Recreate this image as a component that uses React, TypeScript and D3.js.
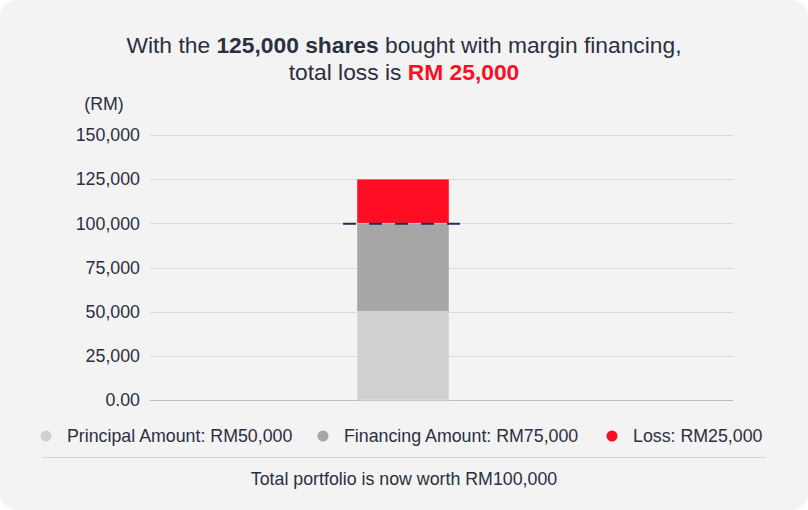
import { useEffect, useRef } from "react";
import * as d3 from "d3";

const categories = ["Portfolio"];
const seriesNames = ["Principal Amount", "Financing Amount", "Loss"];
const seriesValues = [50000, 50000, 25000];
const legendLabels = [
  "Principal Amount: RM50,000",
  "Financing Amount: RM75,000",
  "Loss: RM25,000",
];
const seriesColors = ["#d0d0d0", "#a6a6a6", "#ff0d23"];
const yTicks = [0, 25000, 50000, 75000, 100000, 125000, 150000];
const markerValue = 100000;

const W = 808;
const H = 510;

export default function App() {
  const svgRef = useRef<SVGSVGElement>(null);

  useEffect(() => {
    const margin = { top: 135, right: 75, bottom: 110, left: 150 };
    const svg = d3.select(svgRef.current);
    svg.selectAll("*").remove();

    const font = "'Liberation Sans', Arial, sans-serif";
    const textColor = "#2b2f42";
    const fs = 17.8;

    // card
    svg
      .append("rect")
      .attr("width", W)
      .attr("height", H)
      .attr("rx", 16)
      .attr("fill", "#f3f3f3");

    // title
    const title = svg
      .append("text")
      .attr("text-anchor", "middle")
      .attr("font-family", font)
      .attr("font-size", 22.8)
      .attr("fill", textColor);
    const l1 = title.append("tspan").attr("x", 404).attr("y", 53);
    l1.append("tspan").text("With the ");
    l1.append("tspan").attr("font-weight", "bold").text("125,000 shares");
    l1.append("tspan").text(" bought with margin financing,");
    const l2 = title.append("tspan").attr("x", 404).attr("y", 80);
    l2.append("tspan").text("total loss is ");
    l2.append("tspan")
      .attr("font-weight", "bold")
      .attr("fill", "#ff0d23")
      .text("RM 25,000");

    svg
      .append("text")
      .attr("x", 104)
      .attr("y", 110)
      .attr("text-anchor", "middle")
      .attr("font-family", font)
      .attr("font-size", fs)
      .attr("fill", textColor)
      .text("(RM)");

    const x = d3
      .scaleBand()
      .domain(categories)
      .range([margin.left, W - margin.right])
      .paddingInner(0)
      .paddingOuter(2.67)
      .align(0.4216);

    const y = d3
      .scaleLinear()
      .domain([0, 150000])
      .range([H - margin.bottom, margin.top]);

    // grid
    svg
      .append("g")
      .selectAll("line")
      .data(yTicks)
      .join("line")
      .attr("x1", margin.left)
      .attr("x2", W - margin.right)
      .attr("y1", (d) => Math.round(y(d)) + 0.5)
      .attr("y2", (d) => Math.round(y(d)) + 0.5)
      .attr("stroke", (d) => (d === 0 ? "#bdbdbd" : "#d9d9d9"))
      .attr("stroke-width", 1);

    const yAxis = d3
      .axisLeft(y)
      .tickValues(yTicks)
      .tickSize(0)
      .tickPadding(10)
      .tickFormat((d) => (d === 0 ? "0.00" : d3.format(",")(d as number)));

    const ga = svg
      .append("g")
      .attr("transform", `translate(${margin.left},0)`)
      .call(yAxis);
    ga.select(".domain").remove();
    ga.selectAll("text")
      .attr("font-family", font)
      .attr("font-size", fs)
      .attr("fill", textColor);

    // stacked bar
    let acc = 0;
    const segs = seriesValues.map((v, i) => {
      const s = { y0: acc, y1: acc + v, color: seriesColors[i], name: seriesNames[i] };
      acc += v;
      return s;
    });
    svg
      .append("g")
      .selectAll("rect")
      .data(segs)
      .join("rect")
      .attr("x", x(categories[0])!)
      .attr("width", x.bandwidth())
      .attr("y", (d) => y(d.y1))
      .attr("height", (d) => y(d.y0) - y(d.y1))
      .attr("fill", (d) => d.color)
      .attr("stroke", "rgba(255,255,255,0.35)")
      .attr("stroke-width", 1);

    // marker line
    const bx = x(categories[0])!;
    svg
      .append("line")
      .attr("x1", bx - 14)
      .attr("x2", bx + x.bandwidth() + 11)
      .attr("y1", y(markerValue) + 0.5)
      .attr("y2", y(markerValue) + 0.5)
      .attr("stroke", "#17325a")
      .attr("stroke-width", 2)
      .attr("stroke-dasharray", "13 13");

    // legend
    const legendX = [46, 323, 612];
    const lg = svg
      .append("g")
      .selectAll("g")
      .data(legendLabels)
      .join("g")
      .attr("transform", (_, i) => `translate(${legendX[i]},436)`);
    lg.append("circle").attr("r", 5.5).attr("fill", (_, i) => seriesColors[i]);
    lg.append("text")
      .attr("x", 21)
      .attr("dy", "0.35em")
      .attr("font-family", font)
      .attr("font-size", fs)
      .attr("fill", textColor)
      .text((d) => d);

    svg
      .append("line")
      .attr("x1", 42)
      .attr("x2", 766)
      .attr("y1", 457.5)
      .attr("y2", 457.5)
      .attr("stroke", "#d6d6d6");

    svg
      .append("text")
      .attr("x", 404)
      .attr("y", 485)
      .attr("text-anchor", "middle")
      .attr("font-family", font)
      .attr("font-size", fs)
      .attr("fill", textColor)
      .text("Total portfolio is now worth RM100,000");
  }, []);

  return (
    <div style={{ position: "absolute", left: 0, top: 0 }}>
      <svg ref={svgRef} width={W} height={H} style={{ display: "block" }} />
    </div>
  );
}
